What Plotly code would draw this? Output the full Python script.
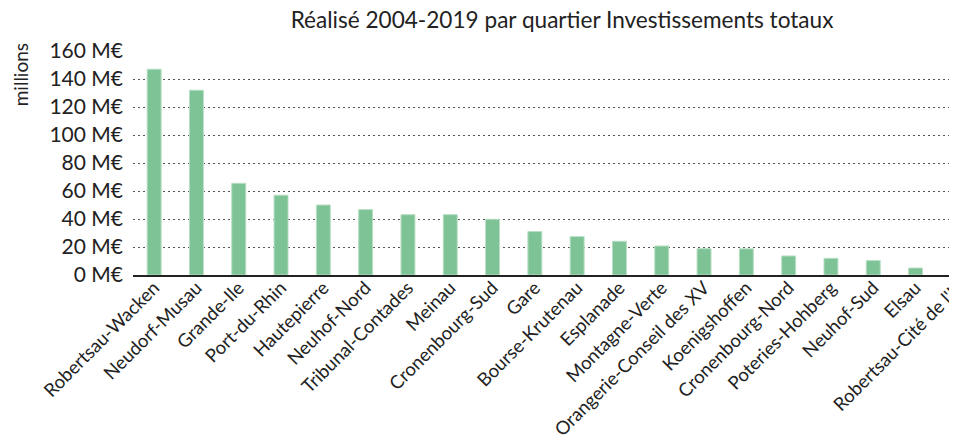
import plotly.graph_objects as go

# Quartiers et montants réalisés (millions d'euros)
quartiers = [
    "Robertsau-Wacken", "Neudorf-Musau", "Grande-Ile", "Port-du-Rhin",
    "Hautepierre", "Neuhof-Nord", "Tribunal-Contades", "Meinau",
    "Cronenbourg-Sud", "Gare", "Bourse-Krutenau", "Esplanade",
    "Montagne-Verte", "Orangerie-Conseil des XV", "Koenigshoffen",
    "Cronenbourg-Nord", "Poteries-Hohberg", "Neuhof-Sud", "Elsau",
    "Robertsau-Cité de l'Ill",
]
montants = [
    147, 132, 65.5, 57, 50, 46.7, 43.1, 43.1, 39.8, 31,
    27.4, 24.1, 20.7, 18.8, 18.7, 13.6, 11.9, 10.3, 5.0, 3.1,
]
ticks_y = [0, 20, 40, 60, 80, 100, 120, 140, 160]
ticks_y_txt = [f"{v} M€" for v in ticks_y]

FONT = "Lato, Open Sans, sans-serif"

fig = go.Figure(go.Bar(
    x=quartiers,
    y=montants,
    marker=dict(color="#7DC395", line=dict(color="#B9DEC5", width=1)),
))

# la page a une marge de 8 px : la zone de tracé est décalée en conséquence
fig.update_layout(
    width=992,
    height=431,
    margin=dict(l=125, r=21, t=43, b=164),
    paper_bgcolor="white",
    plot_bgcolor="white",
    bargap=0.67,
    showlegend=False,
    font=dict(family=FONT, color="#222222"),
    title=dict(
        text="Réalisé 2004-2019 par quartier Investissements totaux",
        font=dict(size=22.6, color="#222222"),
        x=0.5585, xanchor="center",
        y=0.972, yanchor="middle",
        xref="container", yref="container",
    ),
    xaxis=dict(
        tickangle=-45,
        tickfont=dict(size=18.5),
        showgrid=False,
        showline=True,
        linecolor="#222222",
        linewidth=1.5,
        ticks="",
        ticklabelstandoff=-7,
        automargin=False,
    ),
    yaxis=dict(
        range=[0, 160],
        tickmode="array",
        tickvals=ticks_y,
        ticktext=ticks_y_txt,
        tickfont=dict(size=21),
        showgrid=True,
        gridcolor="#555555",
        griddash="2px,3px",
        gridwidth=1,
        zeroline=False,
        showline=False,
        ticklabelstandoff=9,
        automargin=False,
    ),
    annotations=[dict(
        text="millions",
        textangle=-90,
        xref="paper", yref="paper",
        x=-0.132, y=0.893,
        xanchor="center", yanchor="middle",
        showarrow=False,
        font=dict(size=19, color="#222222"),
    )],
)

fig.write_html("out.html")
